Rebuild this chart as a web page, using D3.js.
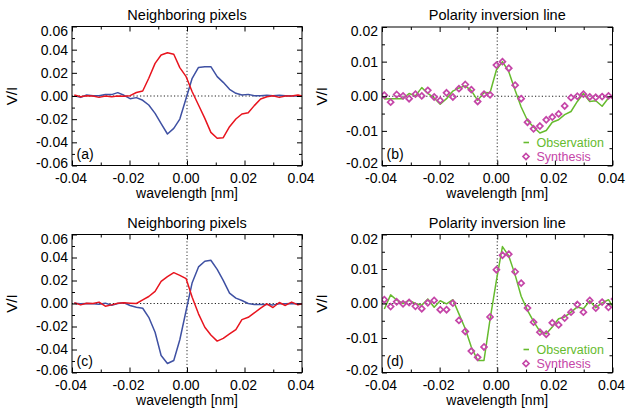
<!DOCTYPE html>
<html><head><meta charset="utf-8">
<script src="https://cdn.jsdelivr.net/npm/d3@7"></script>
<style>
html,body{margin:0;padding:0;background:#fff;}
svg{display:block;font-family:"Liberation Sans",Arial,Helvetica,sans-serif;}
</style></head>
<body><svg id="chart" width="638" height="409"></svg>
<script>
// ---- data ----
const wavelength = [-0.0392,-0.0370,-0.0349,-0.0327,-0.0306,-0.0284,-0.0262,-0.0241,-0.0219,-0.0198,
  -0.0176,-0.0154,-0.0133,-0.0111,-0.0090,-0.0068,-0.0046,-0.0025,-0.0003,0.0018,
  0.0040,0.0062,0.0083,0.0105,0.0126,0.0148,0.0170,0.0191,0.0213,0.0234,
  0.0256,0.0278,0.0299,0.0321,0.0342,0.0364,0.0386,0.0407];

const aRed = [0.0009,-0.0006,0.0003,0.0000,-0.0012,0.0000,-0.0006,0.0000,-0.0003,0.0003,
  0.0030,0.0043,0.0153,0.0282,0.0354,0.0374,0.0360,0.0245,0.0167,0.0037,
  -0.0078,-0.0193,-0.0314,-0.0365,-0.0360,-0.0265,-0.0199,-0.0155,-0.0144,-0.0083,
  -0.0026,-0.0006,0.0003,-0.0012,0.0000,0.0000,0.0009,-0.0006];
const aBlue = [0.0003,-0.0012,0.0009,0.0003,0.0003,0.0012,0.0012,0.0029,0.0006,-0.0023,
  -0.0014,-0.0037,-0.0078,-0.0150,-0.0239,-0.0328,-0.0279,-0.0199,-0.0020,0.0153,
  0.0247,0.0253,0.0253,0.0167,0.0118,0.0058,0.0023,0.0009,0.0014,0.0003,
  0.0003,0.0006,0.0003,0.0006,0.0003,0.0000,0.0003,-0.0003];

const bObs = [-0.0008,-0.0007,-0.0007,-0.0007,0.0008,0.0001,0.0025,0.0008,-0.0005,-0.0023,
  -0.0007,0.0015,0.0024,0.0030,0.0016,-0.0012,0.0011,0.0010,0.0076,0.0100,
  0.0071,0.0017,-0.0031,-0.0070,-0.0089,-0.0106,-0.0099,-0.0075,-0.0068,-0.0053,
  -0.0044,-0.0015,0.0008,-0.0015,-0.0013,-0.0029,-0.0005,0.0008];
const bSyn = [0.0003,-0.0017,0.0005,0.0001,-0.0007,0.0006,0.0001,0.0017,-0.0002,-0.0012,
  0.0010,-0.0002,0.0022,0.0034,0.0019,-0.0015,0.0006,0.0004,0.0090,0.0100,
  0.0081,0.0032,-0.0007,-0.0075,-0.0094,-0.0086,-0.0068,-0.0060,-0.0051,-0.0028,
  -0.0004,0.0000,0.0006,-0.0002,-0.0003,-0.0001,0.0001,-0.0004];

const cRed = [0.0006,-0.0012,0.0003,0.0000,0.0012,-0.0023,-0.0012,0.0003,0.0006,0.0003,
  0.0000,0.0032,0.0061,0.0105,0.0192,0.0233,0.0268,0.0245,0.0216,0.0055,
  -0.0090,-0.0207,-0.0274,-0.0327,-0.0303,-0.0265,-0.0227,-0.0140,-0.0120,-0.0082,
  -0.0041,-0.0003,-0.0035,0.0009,-0.0017,0.0012,-0.0012,0.0003];
const cBlue = [0.0003,-0.0003,0.0000,-0.0003,-0.0006,0.0003,-0.0015,0.0000,0.0006,-0.0017,
  -0.0032,-0.0041,-0.0120,-0.0250,-0.0452,-0.0522,-0.0496,-0.0315,-0.0061,0.0181,
  0.0318,0.0367,0.0376,0.0297,0.0201,0.0090,0.0047,0.0026,0.0000,-0.0009,
  -0.0009,-0.0009,-0.0012,-0.0003,-0.0003,0.0000,-0.0003,-0.0003];

const dObs = [-0.0016,0.0025,0.0010,0.0000,0.0009,0.0000,-0.0005,0.0013,-0.0011,0.0008,
  -0.0001,0.0011,-0.0030,-0.0073,-0.0126,-0.0165,-0.0165,-0.0046,0.0066,0.0165,
  0.0138,0.0083,0.0021,-0.0020,-0.0052,-0.0081,-0.0088,-0.0068,-0.0044,-0.0039,
  -0.0025,-0.0010,-0.0015,0.0008,-0.0012,0.0002,0.0011,-0.0017];
const dSyn = [0.0011,-0.0009,0.0005,-0.0001,0.0003,-0.0008,-0.0015,0.0002,0.0009,-0.0018,
  -0.0018,0.0001,-0.0049,-0.0081,-0.0138,-0.0156,-0.0126,-0.0039,0.0098,0.0140,
  0.0143,0.0092,0.0059,-0.0013,-0.0054,-0.0083,-0.0089,-0.0056,-0.0062,-0.0042,
  -0.0025,-0.0003,-0.0025,0.0009,-0.0013,0.0004,-0.0011,0.0013];

const xTicks = [-0.04,-0.02,0.00,0.02,0.04];
const xTickLabels = ["-0.04","-0.02","0.00","0.02","0.04"];
const xMinor = [-0.03,-0.01,0.01,0.03];
const yTicksWide = [-0.06,-0.04,-0.02,0.00,0.02,0.04,0.06];
const yTickLabelsWide = ["-0.06","-0.04","-0.02","0.00","0.02","0.04","0.06"];
const yMinorWide = [-0.05,-0.03,-0.01,0.01,0.03,0.05];
const yTicksNarrow = [-0.02,-0.01,0.00,0.01,0.02];
const yTickLabelsNarrow = ["-0.02","-0.01","0.00","0.01","0.02"];
const yMinorNarrow = [-0.015,-0.005,0.005,0.015];

const titles = ["Neighboring pixels","Polarity inversion line"];
const panelLabels = ["(a)","(b)","(c)","(d)"];
const legendLabels = ["Observation","Synthesis"];

// ---- styles ----
const RED = "#e8141e", BLUE = "#3f51a3", GREEN = "#66bb2e", MAG = "#c546a8";

const svg = d3.select("#chart");

const panels = [
  {x0:72, x1:302, y0:26.5, y1:165.5, ydom:[-0.06,0.06], yt:yTicksWide, ytl:yTickLabelsWide, ym:yMinorWide,
   title:titles[0], label:panelLabels[0], lines:[{v:aBlue,c:BLUE},{v:aRed,c:RED}]},
  {x0:382, x1:612.5, y0:27, y1:165.5, ydom:[-0.02,0.02], yt:yTicksNarrow, ytl:yTickLabelsNarrow, ym:yMinorNarrow,
   title:titles[1], label:panelLabels[1], lines:[{v:bObs,c:GREEN}], syn:bSyn},
  {x0:72, x1:302, y0:234.5, y1:372.5, ydom:[-0.06,0.06], yt:yTicksWide, ytl:yTickLabelsWide, ym:yMinorWide,
   title:titles[0], label:panelLabels[2], lines:[{v:cBlue,c:BLUE},{v:cRed,c:RED}]},
  {x0:382, x1:612.5, y0:234.5, y1:372.5, ydom:[-0.02,0.02], yt:yTicksNarrow, ytl:yTickLabelsNarrow, ym:yMinorNarrow,
   title:titles[1], label:panelLabels[3], lines:[{v:dObs,c:GREEN}], syn:dSyn}
];

const diamond = r => `M0,${-r}L${r},0L0,${r}L${-r},0Z`;

panels.forEach((p, pi) => {
  const x = d3.scaleLinear().domain([-0.04,0.04]).range([p.x0,p.x1]);
  const y = d3.scaleLinear().domain(p.ydom).range([p.y1,p.y0]);
  const g = svg.append("g");
  const clipId = "clip"+pi;
  svg.append("clipPath").attr("id",clipId).append("rect")
    .attr("x",p.x0).attr("y",p.y0).attr("width",p.x1-p.x0).attr("height",p.y1-p.y0);

  // zero lines
  g.append("line").attr("x1",p.x0).attr("x2",p.x1).attr("y1",y(0)).attr("y2",y(0))
    .attr("stroke","#222").attr("stroke-width",1.1).attr("stroke-dasharray","1.2,2.2");
  g.append("line").attr("x1",x(0)).attr("x2",x(0)).attr("y1",p.y0).attr("y2",p.y1)
    .attr("stroke","#444").attr("stroke-width",1.1).attr("stroke-dasharray","1.2,2.2");

  // data lines
  const plot = g.append("g").attr("clip-path",`url(#${clipId})`);
  const line = d3.line().x((d,i)=>x(wavelength[i])).y(d=>y(d));
  p.lines.forEach(l => {
    plot.append("path").datum(l.v).attr("d",line).attr("fill","none")
      .attr("stroke",l.c).attr("stroke-width",1.5).attr("stroke-linejoin","round");
  });
  if (p.syn) {
    plot.selectAll("path.syn").data(p.syn).enter().append("path").attr("class","syn")
      .attr("d",diamond(3)).attr("transform",(d,i)=>`translate(${x(wavelength[i])},${y(d)})`)
      .attr("fill","none").attr("stroke",MAG).attr("stroke-width",1.7);
  }

  // axes (ticks inside)
  const axStyle = sel => { sel.select(".domain").remove(); sel.selectAll(".tick line").attr("stroke","#000"); };
  g.append("g").attr("transform",`translate(0,${p.y1})`)
    .call(d3.axisBottom(x).tickValues(xTicks).tickSize(-5).tickPadding(8).tickFormat((d,i)=>xTickLabels[i]))
    .call(axStyle)
    .call(s=>s.selectAll("text").attr("font-size",14).attr("fill","#000").attr("dx",-1.5)
      .attr("font-family","Liberation Sans, Arial, sans-serif").attr("dy","0.71em"));
  g.append("g").attr("transform",`translate(0,${p.y1})`)
    .call(d3.axisBottom(x).tickValues(xMinor).tickSize(-3).tickFormat("")).call(axStyle);
  g.append("g").attr("transform",`translate(0,${p.y0})`)
    .call(d3.axisTop(x).tickValues(xTicks).tickSize(-5).tickFormat("")).call(axStyle);
  g.append("g").attr("transform",`translate(0,${p.y0})`)
    .call(d3.axisTop(x).tickValues(xMinor).tickSize(-3).tickFormat("")).call(axStyle);

  g.append("g").attr("transform",`translate(${p.x0},0)`)
    .call(d3.axisLeft(y).tickValues(p.yt).tickSize(-5).tickPadding(4).tickFormat((d,i)=>p.ytl[i]))
    .call(axStyle)
    .call(s=>s.selectAll("text").attr("font-size",14).attr("fill","#000")
      .attr("font-family","Liberation Sans, Arial, sans-serif")
      .attr("y",(d)=>{ const yy=y(d); const c=Math.min(Math.max(yy,p.y0+4.5),p.y1-2.5); return c-yy; }));
  g.append("g").attr("transform",`translate(${p.x0},0)`)
    .call(d3.axisLeft(y).tickValues(p.ym).tickSize(-3).tickFormat("")).call(axStyle);
  g.append("g").attr("transform",`translate(${p.x1},0)`)
    .call(d3.axisRight(y).tickValues(p.yt).tickSize(-5).tickFormat("")).call(axStyle);
  g.append("g").attr("transform",`translate(${p.x1},0)`)
    .call(d3.axisRight(y).tickValues(p.ym).tickSize(-3).tickFormat("")).call(axStyle);

  // frame
  g.append("rect").attr("x",p.x0).attr("y",p.y0).attr("width",p.x1-p.x0).attr("height",p.y1-p.y0)
    .attr("fill","none").attr("stroke","#000").attr("stroke-width",1);

  // texts
  const cx = (p.x0+p.x1)/2;
  g.append("text").attr("x",cx).attr("y",p.y0-7).attr("text-anchor","middle")
    .attr("font-size",14.5).text(p.title);
  g.append("text").attr("x",cx).attr("y",p.y1+32.5).attr("text-anchor","middle")
    .attr("font-size",14).text("wavelength [nm]");
  g.append("text").attr("transform",`translate(${p.x0-55.5},${(p.y0+p.y1)/2}) rotate(-90)`)
    .attr("text-anchor","middle").attr("font-size",15).text("V/I");
  g.append("text").attr("x",p.x0+4.5).attr("y",p.y1-7).attr("font-size",14).text(p.label);

  if (p.syn) {
    const lx = p.x1-76;
    g.append("line").attr("x1",lx-13).attr("x2",lx-7.5).attr("y1",p.y1-23).attr("y2",p.y1-23)
      .attr("stroke",GREEN).attr("stroke-width",1.6);
    g.append("text").attr("x",lx).attr("y",p.y1-18.5).attr("font-size",12.5).attr("fill",GREEN).text(legendLabels[0]);
    g.append("path").attr("d",diamond(3)).attr("transform",`translate(${lx-10.5},${p.y1-9})`)
      .attr("fill","none").attr("stroke",MAG).attr("stroke-width",1.7);
    g.append("text").attr("x",lx).attr("y",p.y1-4.5).attr("font-size",12.5).attr("fill",MAG).text(legendLabels[1]);
  }
});
</script></body></html>
